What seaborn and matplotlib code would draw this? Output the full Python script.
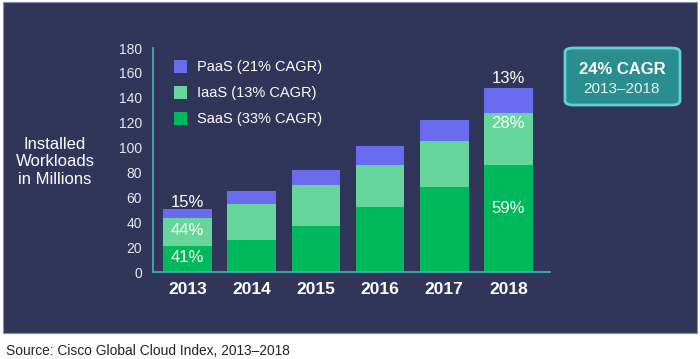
import matplotlib
matplotlib.use("Agg")
import matplotlib.pyplot as plt
import seaborn as sns
import pandas as pd
import numpy as np
from matplotlib.patches import Rectangle, FancyBboxPatch

years = ["2013", "2014", "2015", "2016", "2017", "2018"]
saas = [21, 26, 37, 52, 68, 86]
iaas = [22, 29, 33, 34, 37, 42]
paas = [8, 10, 12, 15, 17, 20]
series_labels = ["PaaS (21% CAGR)", "IaaS (13% CAGR)", "SaaS (33% CAGR)"]
pct_2013 = ["15%", "44%", "41%"]
pct_2018 = ["13%", "28%", "59%"]
yticks = [0, 20, 40, 60, 80, 100, 120, 140, 160, 180]

c_paas = "#6a6cf0"
c_iaas = "#66d69d"
c_saas = "#00b95c"
bg = "#32355a"
teal = "#3fb8b8"

sns.set_theme(style="white")
plt.rcParams['font.family'] = ['Liberation Sans', 'DejaVu Sans']

W, H = 700, 359
fig = plt.figure(figsize=(7, 3.59), dpi=100)
fig.patch.set_facecolor("white")
fig.patches.append(Rectangle((3 / W, (H - 333) / H), 694 / W, 331 / H,
                             transform=fig.transFigure, facecolor=bg,
                             edgecolor="#8a8cab", linewidth=0.8, zorder=-5))

ax = fig.add_axes([153 / W, 87 / H, 397 / W, 224 / H])
ax.set_facecolor("none")
ax.set_zorder(2)

df = pd.DataFrame({"year": years, "saas": saas, "iaas": iaas, "paas": paas})
df["total"] = df.saas + df.iaas + df.paas
df["si"] = df.saas + df.iaas

sns.barplot(data=df, x="year", y="total", color=c_paas, width=0.76,
            saturation=1, ax=ax, order=years)
sns.barplot(data=df, x="year", y="si", color=c_iaas, width=0.76,
            saturation=1, ax=ax, order=years)
sns.barplot(data=df, x="year", y="saas", color=c_saas, width=0.76,
            saturation=1, ax=ax, order=years)
for p in ax.patches:
    p.set_edgecolor("none")

ax.set_xlim(-0.54, 5.65)
ax.set_ylim(0, 180)
ax.set_yticks(yticks)
ax.set_xlabel("")
ax.set_ylabel("")
for s in ["top", "right"]:
    ax.spines[s].set_visible(False)
for s in ["left", "bottom"]:
    ax.spines[s].set_color(teal)
    ax.spines[s].set_linewidth(1.2)
ax.tick_params(axis="y", colors="#e8e8f2", labelsize=10, length=0, pad=8)
ax.tick_params(axis="x", colors="white", labelsize=12.5, length=0, pad=7)
for t in ax.get_xticklabels():
    t.set_fontweight("bold")

# percentage labels
t0 = df.total[0]
ax.text(0, t0 + 4.5, pct_2013[0], color="white", fontsize=12, ha="center", va="center")
ax.text(0, saas[0] + iaas[0] / 2 + 1.5, pct_2013[1], color="white", fontsize=12, ha="center", va="center")
ax.text(0, saas[0] / 2 + 0.8, pct_2013[2], color="white", fontsize=12, ha="center", va="center")
t5 = df.total[5]
ax.text(5, t5 + 7.5, pct_2018[0], color="white", fontsize=12, ha="center", va="center")
ax.text(5, saas[5] + iaas[5] * 0.8, pct_2018[1], color="white", fontsize=12, ha="center", va="center")
ax.text(5, saas[5] * 0.59, pct_2018[2], color="white", fontsize=12, ha="center", va="center")

# legend (manual)
leg_cols = [c_paas, c_iaas, c_saas]
leg_y = [66.5, 92.5, 118.5]
for lab, col, yy in zip(series_labels, leg_cols, leg_y):
    fig.patches.append(Rectangle((174 / W, (H - yy - 6.5) / H), 13 / W, 13 / H,
                                 transform=fig.transFigure, facecolor=col,
                                 edgecolor="none", zorder=3))
    fig.text(197 / W, (H - yy) / H, lab, color="white", fontsize=10.5,
             ha="left", va="center")

# left label
fig.text(55 / W, (H - 162) / H, "Installed\nWorkloads\nin Millions", color="white",
         fontsize=12, ha="center", va="center", linespacing=1.2)

# CAGR box
fig.patches.append(FancyBboxPatch((565 / W, (H - 105) / H), 115 / W, 57 / H,
                                  boxstyle="round,pad=0,rounding_size=0.012",
                                  transform=fig.transFigure, facecolor="#2a8d8f",
                                  edgecolor="#5fd3d3", linewidth=2.0, zorder=3))
fig.text(622 / W, (H - 70) / H, "24% CAGR", color="white", fontsize=12,
         fontweight="bold", ha="center", va="center", zorder=4)
fig.text(622 / W, (H - 89) / H, "2013–2018", color="#e8f4f4", fontsize=11,
         ha="center", va="center", zorder=4)

# source
fig.text(6 / W, (H - 351) / H, "Source: Cisco Global Cloud Index, 2013–2018",
         color="#222222", fontsize=9.9, ha="left", va="center")

fig.savefig("out.png", dpi=100, facecolor=fig.get_facecolor())
